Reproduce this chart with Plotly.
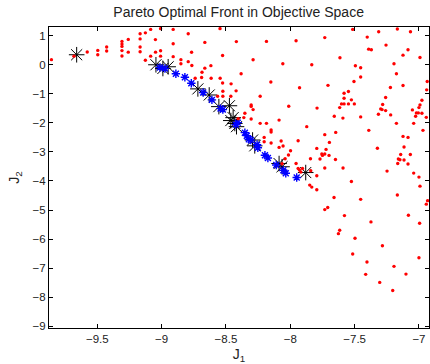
import plotly.graph_objects as go

# Dominated / feasible objective samples (red dots)
red_j1 = [-9.856, -9.681, -9.578, -9.496, -9.496, -9.427, -9.427, -9.308, -9.308, -9.308,
          -9.308, -9.308, -9.259, -9.259, -9.167, -9.167, -9.167, -9.167, -9.126, -9.126,
          -9.085, -9.085, -9.048, -9.047, -9.008, -9.008, -9.008, -8.910, -8.910, -8.910,
          -8.850, -8.850, -8.793, -8.793, -8.767, -8.765, -8.664, -8.664, -8.686, -8.617,
          -8.615, -8.739, -8.689, -8.546, -8.545, -8.526, -8.526, -8.460, -8.419, -8.382,
          -8.524, -8.421, -8.462, -8.524, -8.565, -8.361, -8.353, -8.405,
          -8.185, -7.955, -7.732, -8.289, -8.058, -7.833, -7.614, -8.151, -7.928, -7.707,
          -8.234, -8.304, -8.304, -8.289, -8.012, -7.792, -7.616, -7.658, -8.304, -8.087,
          -7.515, -7.313, -7.168, -7.066, -7.402, -7.391, -7.370, -7.256, -7.085, -7.124,
          -6.992, -7.494, -7.453, -7.194, -7.453, -7.175, -7.505, -6.936, -7.222, -7.124,
          -7.548, -7.582, -6.940, -7.582, -7.525, -6.977, -7.259, -7.602, -7.582, -7.548,
          -7.502, -7.282, -7.297, -7.287, -7.259, -7.315, -7.220, -6.992, -7.000, -7.051,
          -7.020, -7.005, -6.977, -7.026, -6.943, -7.591, -7.453, -7.175, -7.041, -6.969,
          -7.390, -7.124, -7.085, -7.116, -7.323, -7.142, -7.067, -7.160, -7.148, -7.116,
          -7.165, -7.085, -7.248, -7.590, -7.041, -7.000, -7.525, -6.992, -7.168, -7.453,
          -6.933, -6.943, -7.660, -7.732, -7.709, -7.579, -7.082, -7.373, -6.995, -7.616,
          -7.626, -7.497, -7.284, -7.515, -7.000, -7.404, -7.194, -7.414, -7.101, -7.305,
          -7.204,
          -8.234, -8.185, -7.872, -8.149, -8.149, -7.732, -7.647, -8.203, -8.203, -8.149,
          -8.071, -8.056, -8.087, -7.939, -7.696, -7.794, -7.998, -8.014, -7.722, -7.755,
          -7.750, -7.732, -7.699, -7.649, -7.843, -8.040, -7.769, -7.955, -8.064, -7.732,
          -7.905, -7.939, -7.929, -7.918, -7.794, -7.841, -7.849, -7.833, -7.794]
red_j2 = [0.176, 0.297, 0.442, 0.494, 0.345, 0.614, 0.476, 0.804, 0.711, 0.632,
          0.487, 0.304, 0.873, 0.435, 1.070, 0.891, 0.614, 0.449, 1.098, 0.155,
          1.218, 0.297, 0.866, 0.435, 1.243, 0.483, 0.297, 1.218, 0.725, 0.280,
          0.176, 0.035, 1.070, 0.107, 0.431, -0.024, 0.770, -0.117, -0.255, -0.031,
          -0.463, -0.463, -0.438, 1.243, -0.463, 0.321, -0.628, -0.656, 0.797, -0.307,
          -0.911, -0.897, -1.084, -1.084, -1.084, -1.819, -1.671, -1.854,
          0.804, 0.828, 0.935, 0.173, 0.035, 0.000, 0.242, -0.594, -0.790, -0.708,
          -1.084, -1.381, -1.432, -1.543, -1.429, -1.491, -1.474, -1.774, -1.864, -1.905,
          1.218, 1.139, 1.229, 1.139, 0.953, 0.538, 0.518, 0.677, 0.518, 0.331,
          0.252, -0.035, -0.104, 0.035, -0.421, -0.311, -0.576, -0.576, -0.784, -0.715,
          -0.922, -0.980, -0.863, -1.153, -1.208, -1.222, -1.129, -1.346, -1.346, -1.346,
          -1.346, -1.370, -1.519, -1.543, -1.577, -1.705, -1.726, -1.381, -1.474, -1.553,
          -1.657, -1.657, -1.671, -1.774, -1.809, -1.836, -1.795, -2.016, -2.016, -2.257,
          -2.257, -2.465, -2.499, -2.831, -2.872, -3.086, -3.086, -3.245, -3.269, -3.279,
          -3.397, -3.417, -3.659, -3.555, -3.728, -3.866, -4.018, -4.177, -4.484, -4.632,
          -4.677, -4.798, -4.570, -4.984, -4.915, -5.192, -5.178, -5.409, -5.454, -5.696,
          -5.813, -5.972, -6.227, -6.514, -6.641, -6.790, -6.938, -7.214, -7.204, -7.491,
          -7.767,
          -2.016, -2.016, -2.130, -2.244, -2.313, -2.406, -2.327, -2.499, -2.648, -2.692,
          -2.623, -2.796, -2.844, -2.613, -2.672, -2.879, -2.958, -3.107, -2.913, -3.072,
          -3.120, -3.072, -3.120, -3.259, -3.234, -3.234, -3.245, -3.397, -3.407, -3.555,
          -3.569, -3.569, -3.624, -3.693, -3.821, -3.649, -4.142, -4.211, -4.304]

# Pareto-optimal points (blue asterisks)
blue_j1 = [-9.013, -8.974, -8.889, -8.819, -8.769, -8.677, -8.609, -8.542, -8.524, -8.423,
           -8.408, -8.353, -8.338, -8.322, -8.307, -8.258, -8.252, -8.197, -8.174, -8.109,
           -8.054, -8.035, -7.950]
blue_j2 = [-0.093, -0.128, -0.311, -0.428, -0.635, -0.956, -1.208, -1.508, -1.543, -2.061,
           -1.992, -2.337, -2.440, -2.561, -2.589, -2.751, -2.855, -3.114, -3.210, -3.452,
           -3.631, -3.735, -3.880]

# Selected front points (black asterisks)
black_j1 = [-9.660, -9.044, -8.990, -8.949, -8.718, -8.630, -8.555, -8.473, -8.462, -8.444,
            -8.431, -8.418, -8.293, -8.276, -8.087, -8.064, -7.880]
black_j2 = [0.345, 0.000, -0.128, -0.069, -0.830, -1.040, -1.440, -1.410, -1.920, -1.820,
            -2.020, -2.130, -2.590, -2.790, -3.400, -3.510, -3.710]

x_ticks = [-9.5, -9, -8.5, -8, -7.5, -7]
y_ticks = [1, 0, -1, -2, -3, -4, -5, -6, -7, -8, -9]

fig = go.Figure()
fig.add_trace(go.Scatter(x=black_j1, y=black_j2, mode="markers",
                         marker=dict(symbol="asterisk-open", size=13, color="black",
                                     line=dict(color="black", width=1)),
                         showlegend=False, hoverinfo="skip"))
fig.add_trace(go.Scatter(x=blue_j1, y=blue_j2, mode="markers",
                         marker=dict(symbol="asterisk-open", size=7, color="#0000FF",
                                     line=dict(color="#0000FF", width=1.4)),
                         showlegend=False, hoverinfo="skip"))
fig.add_trace(go.Scatter(x=red_j1, y=red_j2, mode="markers",
                         marker=dict(symbol="circle", size=3.4, color="#FF0000", line=dict(width=0)),
                         showlegend=False, hoverinfo="skip"))

font_family = "Liberation Sans, Arial, Helvetica, sans-serif"
axis_common = dict(showgrid=False, zeroline=False, showline=True, linecolor="black",
                   linewidth=1, mirror="ticks", ticks="inside", ticklen=4,
                   tickcolor="black", tickwidth=1,
                   tickfont=dict(family=font_family, size=11.5, color="#222"))

fig.update_xaxes(range=[-9.875, -6.922], tickvals=x_ticks,
                 ticktext=[f"{v:g}".replace("-", "\u2212") for v in x_ticks],
                 title=dict(text="J<sub>1</sub>", font=dict(family=font_family, size=14, color="#222"),
                            standoff=5),
                 **axis_common)
fig.update_yaxes(range=[-9.06, 1.3], tickvals=y_ticks,
                 ticktext=[f"{v:g}".replace("-", "\u2212") for v in y_ticks],
                 title=dict(text="J<sub>2</sub>", font=dict(family=font_family, size=14, color="#222"),
                            standoff=9),
                 **axis_common)

fig.update_layout(
    width=430, height=364,
    margin=dict(l=49, r=1, t=27, b=36),
    paper_bgcolor="white", plot_bgcolor="white",
    title=dict(text="Pareto Optimal Front in Objective Space",
               font=dict(family=font_family, size=14, color="#222"),
               x=0.555, xanchor="center", y=1 - 12.5 / 364, yanchor="middle", yref="container"),
)

fig.write_html("out.html")
